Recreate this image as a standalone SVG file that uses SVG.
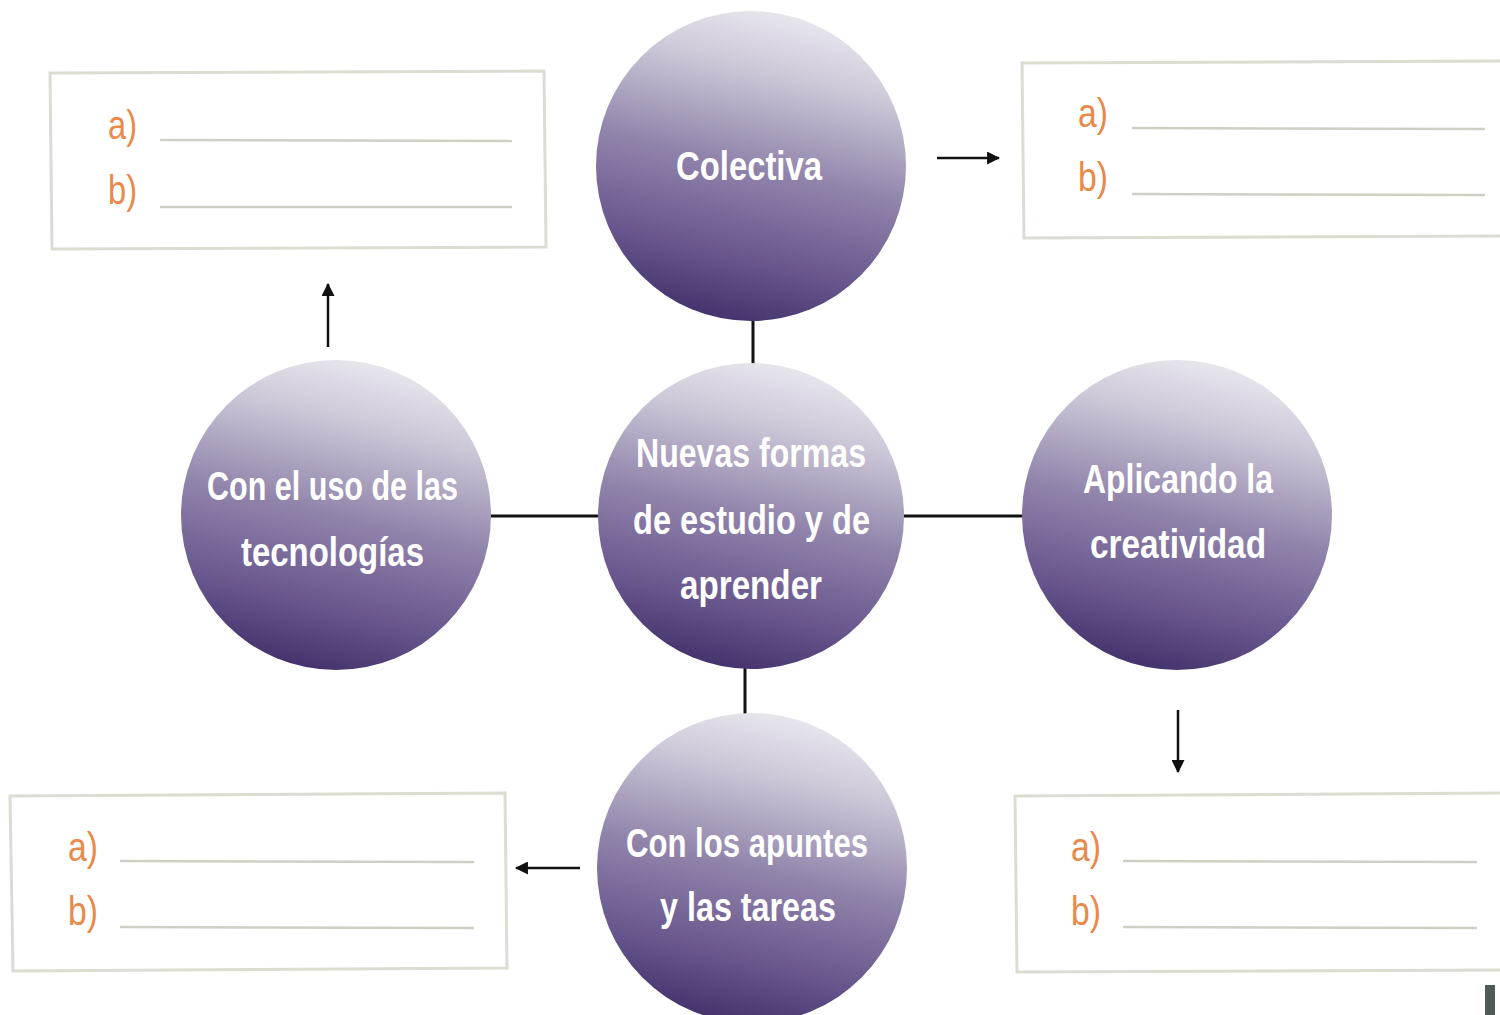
<svg xmlns="http://www.w3.org/2000/svg" width="1500" height="1015" viewBox="0 0 1500 1015">
<defs>
<linearGradient id="ball" x1="0.62" y1="0" x2="0.38" y2="1">
<stop offset="0" stop-color="#e9e8ee"/>
<stop offset="0.2" stop-color="#cdc8d8"/>
<stop offset="0.5" stop-color="#9184ab"/>
<stop offset="0.8" stop-color="#66548c"/>
<stop offset="1" stop-color="#43316b"/>
</linearGradient>
<marker id="ah" viewBox="0 0 12 12" refX="11" refY="6" markerWidth="13" markerHeight="13" markerUnits="userSpaceOnUse" orient="auto">
<path d="M0,0 L12,6 L0,12 z" fill="#111"/>
</marker>
<style>
.ball{fill:url(#ball)}
.nt{font-family:"Liberation Sans",Arial,sans-serif;font-weight:bold;font-size:40px;fill:#ffffff;text-anchor:start}
.box{fill:#ffffff;stroke:#dcdcd3;stroke-width:3}
.ul{stroke:#cfcfc6;stroke-width:2.5}
.lb{font-family:"Liberation Sans",Arial,sans-serif;font-size:40px;fill:#e9894a}
.con{stroke:#111;stroke-width:3;fill:none}
.arr{stroke:#111;stroke-width:2.5;fill:none;marker-end:url(#ah)}
</style>
</defs>
<rect width="1500" height="1015" fill="#ffffff"/>

<g id="box-tl">
<path class="box" d="M50,73 L544,71 L546,247 L52,249 Z"/>
<text class="lb" x="108" y="139" textLength="29" lengthAdjust="spacingAndGlyphs">a)</text>
<line class="ul" x1="160" y1="140" x2="512" y2="141"/>
<text class="lb" x="108" y="204" textLength="29" lengthAdjust="spacingAndGlyphs">b)</text>
<line class="ul" x1="160" y1="207" x2="512" y2="207"/>
</g>
<g id="box-tr">
<path class="box" d="M1022,63 L1503,61 L1503,236 L1024,238 Z"/>
<text class="lb" x="1078" y="127" textLength="30" lengthAdjust="spacingAndGlyphs">a)</text>
<line class="ul" x1="1132" y1="128" x2="1485" y2="129"/>
<text class="lb" x="1078" y="191" textLength="30" lengthAdjust="spacingAndGlyphs">b)</text>
<line class="ul" x1="1132" y1="194" x2="1485" y2="195"/>
</g>
<g id="box-bl">
<path class="box" d="M10,796 L505,793 L507,968 L13,971 Z"/>
<text class="lb" x="68" y="861" textLength="30" lengthAdjust="spacingAndGlyphs">a)</text>
<line class="ul" x1="120" y1="861" x2="474" y2="862"/>
<text class="lb" x="68" y="925" textLength="30" lengthAdjust="spacingAndGlyphs">b)</text>
<line class="ul" x1="120" y1="927" x2="474" y2="928"/>
</g>
<g id="box-br">
<path class="box" d="M1015,796 L1503,793 L1503,970 L1017,972 Z"/>
<text class="lb" x="1071" y="861" textLength="30" lengthAdjust="spacingAndGlyphs">a)</text>
<line class="ul" x1="1123" y1="861" x2="1477" y2="862"/>
<text class="lb" x="1071" y="925" textLength="30" lengthAdjust="spacingAndGlyphs">b)</text>
<line class="ul" x1="1123" y1="927" x2="1477" y2="928"/>
</g>

<g id="connectors">
<line class="con" x1="753" y1="316" x2="753" y2="366"/>
<line class="con" x1="490" y1="516" x2="598" y2="516"/>
<line class="con" x1="904" y1="516" x2="1023" y2="516"/>
<line class="con" x1="745" y1="666" x2="745" y2="716"/>
<line class="arr" x1="937" y1="158" x2="999" y2="158"/>
<line class="arr" x1="328" y1="347" x2="328" y2="284"/>
<line class="arr" x1="1178" y1="710" x2="1178" y2="772"/>
<line class="arr" x1="580" y1="868" x2="516" y2="868"/>
</g>

<g id="node-colectiva">
<circle class="ball" cx="751" cy="166" r="155"/>
<text class="nt" x="676" y="180" textLength="146" lengthAdjust="spacingAndGlyphs">Colectiva</text>
</g>
<g id="node-center">
<circle class="ball" cx="751" cy="516" r="153"/>
<text class="nt" x="636" y="467" textLength="230" lengthAdjust="spacingAndGlyphs">Nuevas formas</text>
<text class="nt" x="633" y="534" textLength="237" lengthAdjust="spacingAndGlyphs">de estudio y de</text>
<text class="nt" x="680" y="599" textLength="142" lengthAdjust="spacingAndGlyphs">aprender</text>
</g>
<g id="node-tecnologias">
<circle class="ball" cx="336" cy="515" r="155"/>
<text class="nt" x="207" y="500" textLength="251" lengthAdjust="spacingAndGlyphs">Con el uso de las</text>
<text class="nt" x="241" y="566" textLength="183" lengthAdjust="spacingAndGlyphs">tecnologías</text>
</g>
<g id="node-creatividad">
<circle class="ball" cx="1177" cy="515" r="155"/>
<text class="nt" x="1083" y="493" textLength="190" lengthAdjust="spacingAndGlyphs">Aplicando la</text>
<text class="nt" x="1090" y="558" textLength="176" lengthAdjust="spacingAndGlyphs">creatividad</text>
</g>
<g id="node-apuntes">
<circle class="ball" cx="752" cy="868" r="155"/>
<text class="nt" x="626" y="857" textLength="242" lengthAdjust="spacingAndGlyphs">Con los apuntes</text>
<text class="nt" x="660" y="921" textLength="176" lengthAdjust="spacingAndGlyphs">y las tareas</text>
</g>

<rect x="1485" y="985" width="10" height="30" fill="#4f5a58"/>
</svg>
